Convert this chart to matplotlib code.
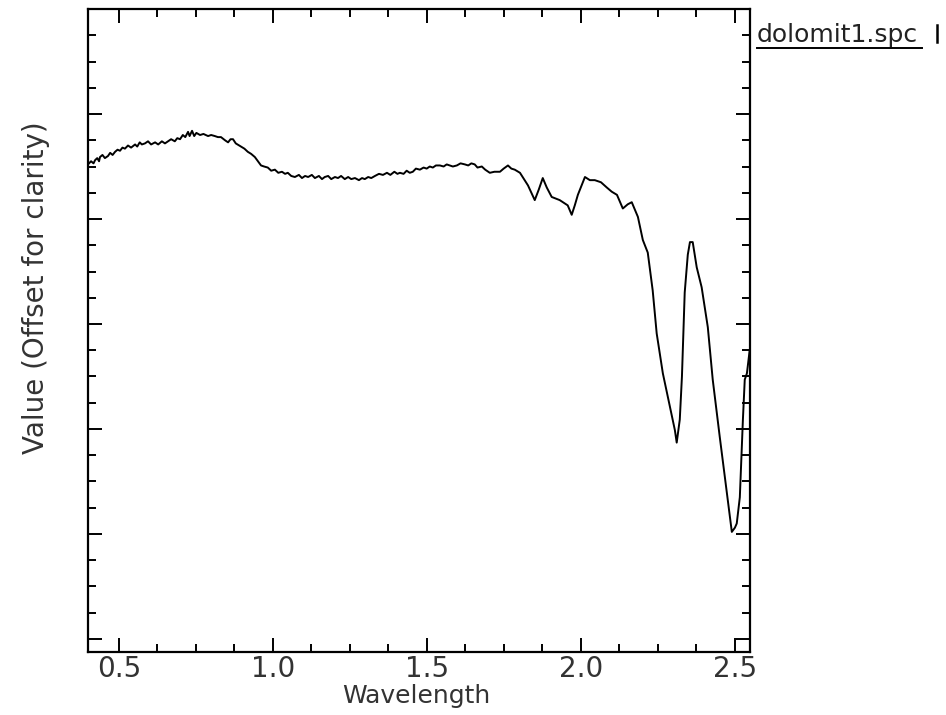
import numpy as np
import matplotlib.pyplot as plt
from matplotlib.ticker import MultipleLocator, NullFormatter

# spectrum (wavelength, offset value)
wavelength = [0.400, 0.410, 0.418, 0.423, 0.430, 0.436, 0.439, 0.447, 0.455, 0.465,
              0.472, 0.480, 0.488, 0.496, 0.504, 0.512, 0.520, 0.530, 0.540, 0.553,
              0.560, 0.568, 0.575, 0.585, 0.595, 0.605, 0.618, 0.628, 0.640, 0.650,
              0.660, 0.670, 0.682, 0.690, 0.699, 0.708, 0.716, 0.725, 0.730, 0.738,
              0.745, 0.752, 0.764, 0.775, 0.790, 0.800, 0.812, 0.822, 0.832, 0.845,
              0.855, 0.863, 0.871, 0.880, 0.897, 0.908, 0.919, 0.930, 0.942, 0.952,
              0.962, 0.972, 0.984, 0.995, 1.007, 1.018, 1.030, 1.040, 1.049, 1.060,
              1.072, 1.085, 1.095, 1.105, 1.115, 1.127, 1.137, 1.150, 1.160, 1.169,
              1.180, 1.190, 1.202, 1.212, 1.222, 1.234, 1.245, 1.255, 1.267, 1.280,
              1.290, 1.299, 1.310, 1.320, 1.332, 1.345, 1.358, 1.371, 1.382, 1.395,
              1.405, 1.413, 1.425, 1.435, 1.445, 1.455, 1.465, 1.478, 1.490, 1.500,
              1.510, 1.520, 1.530, 1.543, 1.555, 1.565, 1.575, 1.585, 1.598, 1.610,
              1.624, 1.635, 1.645, 1.656, 1.665, 1.679, 1.690, 1.705, 1.720, 1.738,
              1.750, 1.764, 1.775, 1.786, 1.803, 1.829, 1.851, 1.864, 1.877, 1.890,
              1.906, 1.932, 1.958, 1.971, 1.981, 1.991, 2.014, 2.030, 2.046, 2.066,
              2.085, 2.101, 2.118, 2.137, 2.153, 2.166, 2.186, 2.202, 2.218, 2.234,
              2.247, 2.267, 2.290, 2.306, 2.312, 2.322, 2.329, 2.338, 2.348, 2.355,
              2.364, 2.377, 2.393, 2.413, 2.429, 2.452, 2.475, 2.491, 2.501, 2.507,
              2.517, 2.527, 2.533, 2.540, 2.549]
value = [0.452, 0.455, 0.453, 0.456, 0.458, 0.455, 0.459, 0.461, 0.458, 0.460,
         0.463, 0.461, 0.464, 0.466, 0.465, 0.468, 0.467, 0.470, 0.468, 0.471,
         0.469, 0.473, 0.471, 0.472, 0.474, 0.471, 0.473, 0.471, 0.474, 0.472,
         0.474, 0.476, 0.474, 0.477, 0.476, 0.480, 0.478, 0.483, 0.479, 0.484,
         0.479, 0.482, 0.480, 0.481, 0.479, 0.480, 0.479, 0.478, 0.478, 0.475,
         0.473, 0.476, 0.476, 0.472, 0.469, 0.467, 0.464, 0.462, 0.459, 0.455,
         0.451, 0.450, 0.449, 0.446, 0.447, 0.444, 0.445, 0.443, 0.444, 0.441,
         0.440, 0.442, 0.439, 0.441, 0.440, 0.442, 0.439, 0.441, 0.438, 0.440,
         0.441, 0.438, 0.440, 0.439, 0.441, 0.438, 0.440, 0.438, 0.439, 0.437,
         0.439, 0.438, 0.440, 0.439, 0.441, 0.443, 0.442, 0.444, 0.442, 0.445,
         0.443, 0.444, 0.443, 0.446, 0.444, 0.445, 0.448, 0.447, 0.449, 0.448,
         0.450, 0.449, 0.451, 0.451, 0.450, 0.452, 0.451, 0.450, 0.451, 0.453,
         0.452, 0.451, 0.453, 0.452, 0.449, 0.450, 0.447, 0.444, 0.445, 0.445,
         0.448, 0.451, 0.448, 0.447, 0.444, 0.432, 0.418, 0.428, 0.439, 0.430,
         0.421, 0.418, 0.413, 0.404, 0.413, 0.423, 0.440, 0.437, 0.437, 0.435,
         0.430, 0.426, 0.423, 0.410, 0.414, 0.416, 0.402, 0.380, 0.368, 0.332,
         0.291, 0.253, 0.221, 0.199, 0.187, 0.209, 0.250, 0.330, 0.366, 0.378,
         0.378, 0.354, 0.335, 0.297, 0.247, 0.192, 0.139, 0.102, 0.106, 0.110,
         0.135, 0.209, 0.247, 0.253, 0.275]
legend_label = "dolomit1.spc"

fig = plt.figure(figsize=(9.46, 7.15), dpi=100)
ax = fig.add_axes([0.093, 0.0881, 0.6998, 0.8993])

ax.plot(wavelength, value, color='black', lw=1.4)
ax.set_xlim(0.4, 2.55)
ax.set_ylim(-0.0124, 0.6)

ax.xaxis.set_major_locator(MultipleLocator(0.5))
ax.xaxis.set_minor_locator(MultipleLocator(0.125))
ax.yaxis.set_major_locator(MultipleLocator(0.1))
ax.yaxis.set_minor_locator(MultipleLocator(0.025))
ax.yaxis.set_major_formatter(NullFormatter())
ax.tick_params(which='both', direction='in', top=True, right=True, width=1.4,
               color='black', labelsize=20, labelcolor='#333333', pad=2.5)
ax.tick_params(which='major', length=10)
ax.tick_params(which='minor', length=5.5)
for s in ax.spines.values():
    s.set_linewidth(1.6)

# axis titles placed to sit where the reference has them
fig.text(0.4397, 0.0168, "Wavelength", fontsize=18, color='#333333',
         ha='center', va='baseline')
ax.set_ylabel("Value (Offset for clarity)", fontsize=20, color='#333333')
ax.yaxis.set_label_coords(-0.058, 0.566)

# legend entry to the right of the plot
fig.text(0.800, 0.9413, legend_label, fontsize=18, color='#222222',
         ha='left', va='baseline')
fig.add_artist(plt.Line2D([0.800, 0.975], [0.9329, 0.9329], color='black', lw=1.4))
fig.add_artist(plt.Line2D([0.9905, 0.9905], [0.9413, 0.965], color='black', lw=1.8))

fig.savefig("out.png", dpi=100)
